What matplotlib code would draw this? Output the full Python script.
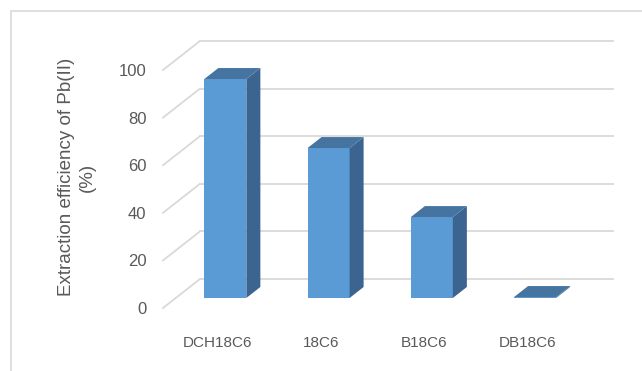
import matplotlib
matplotlib.use("Agg")
from matplotlib import pyplot as plt
from matplotlib.patches import Polygon, Rectangle

categories = ['DCH18C6', '18C6', 'B18C6', 'DB18C6']
efficiency = [92, 63, 34, 0.4]
yticks = [0, 20, 40, 60, 80, 100]
ylabel = 'Extraction efficiency of Pb(II)\n(%)'

plt.rcParams['font.family'] = ['Liberation Sans', 'DejaVu Sans']
text_col = '#595959'
grid_col = '#d9d9d9'
front_col = '#5b9bd5'
side_col = '#3b6590'
top_col = '#4674a0'

fig = plt.figure(figsize=(6.42, 3.71), dpi=100)
# front plane of the 3D box
ax = fig.add_axes([163 / 642, 63 / 371, 413 / 642, 238 / 371])
ax.set_xlim(0, 4)
ax.set_ylim(0, 100)
ax.patch.set_visible(False)
for s in ax.spines.values():
    s.set_visible(False)

# depth of the box in data units (oblique projection)
ddx = 37 * 4 / 413
ddy = 29 * 100 / 238

# back wall gridlines + diagonal floor/side lines
for v in yticks:
    ax.plot([ddx, 4 + ddx], [v + ddy, v + ddy], color=grid_col, lw=1.3,
            clip_on=False, zorder=1)
    ax.plot([0, ddx], [v, v + ddy], color=grid_col, lw=1.3,
            clip_on=False, zorder=1)

# bars, sitting in the middle of the depth
f0, f1 = 0.345, 0.724
w = 0.407
sx = (f1 - f0) * ddx
sy = (f1 - f0) * ddy
b = f0 * ddy
for i, v in enumerate(efficiency):
    x0 = i + 0.5 - w / 2 + f0 * ddx - 0.02
    x1 = x0 + w
    front = Polygon([(x0, b), (x1, b), (x1, b + v), (x0, b + v)],
                    closed=True, fc=front_col, ec='none', zorder=3, clip_on=False)
    side = Polygon([(x1, b), (x1 + sx, b + sy), (x1 + sx, b + sy + v), (x1, b + v)],
                   closed=True, fc=side_col, ec='none', zorder=3, clip_on=False)
    top = Polygon([(x0, b + v), (x1, b + v), (x1 + sx, b + v + sy), (x0 + sx, b + v + sy)],
                  closed=True, fc=top_col, ec='none', zorder=4, clip_on=False)
    for p in (front, side, top):
        ax.add_patch(p)

ax.set_yticks(yticks)
ax.set_yticklabels([str(t) for t in yticks], fontsize=12, color=text_col)
ax.set_xticks([i + 0.53 for i in range(len(categories))])
ax.set_xticklabels(categories, fontsize=11, color=text_col)
ax.tick_params(axis='y', length=0, pad=12)
ax.tick_params(axis='x', length=0, pad=20)

fig.text(77 / 642, 1 - 177 / 371, ylabel, rotation=90, ha='center', va='center',
         multialignment='center', fontsize=13.5, color=text_col, linespacing=1.35)

# chart area border (runs off the right and bottom edges)
fig.add_artist(Rectangle((11 / 642, -0.05), 1.1, 1 - 11 / 371 + 0.05,
                         transform=fig.transFigure, fill=False,
                         ec=grid_col, lw=1.2))

plt.savefig('out.png', dpi=100)
